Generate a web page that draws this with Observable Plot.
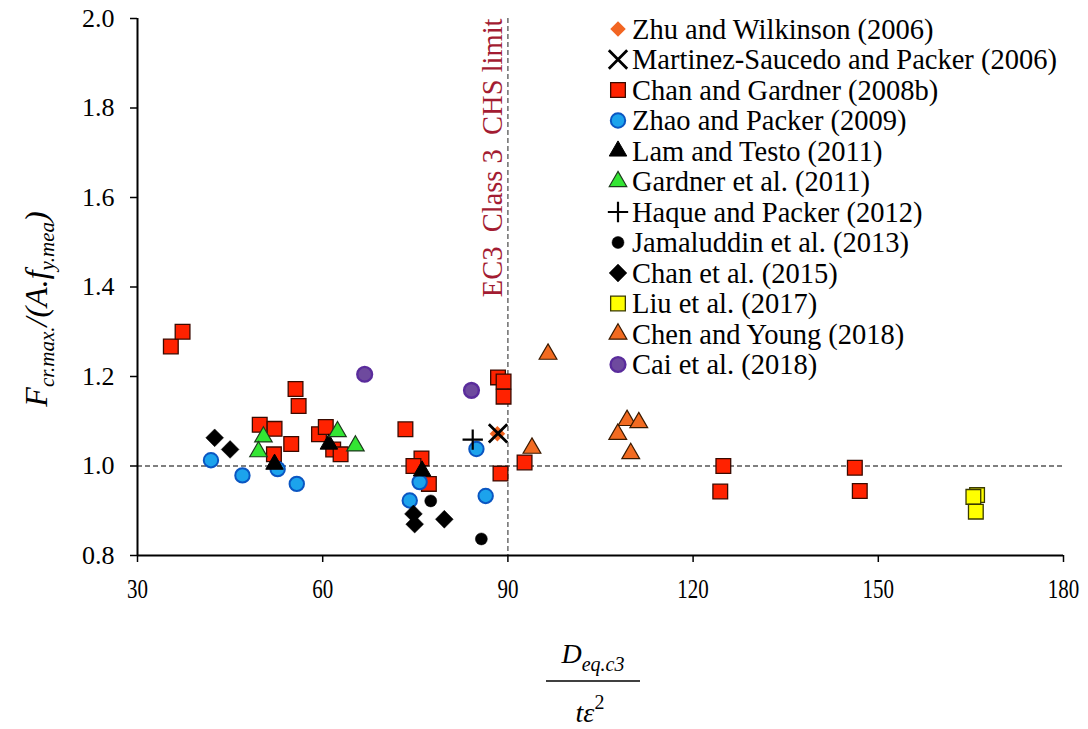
<!DOCTYPE html>
<html><head><meta charset="utf-8">
<script src="https://cdn.jsdelivr.net/npm/d3@7"></script>
<script src="https://cdn.jsdelivr.net/npm/@observablehq/plot@0.6"></script>
<style>body{margin:0;background:#fff} svg{display:block} svg text, svg tspan{font-family:'Liberation Serif','Times New Roman',serif !important;}</style>
</head><body><div id="chart"></div>
<script>
// ---- data ----
const xTicks = [30, 60, 90, 120, 150, 180];
const yTicks = [0.8, 1.0, 1.2, 1.4, 1.6, 1.8, 2.0];
const limitX = 90;
const refY = 1.0;
const limitLabel = "EC3\u00a0\u00a0Class 3\u00a0\u00a0CHS limit";

const seriesNames = [
  "Zhu and Wilkinson (2006)",
  "Martinez-Saucedo and Packer (2006)",
  "Chan and Gardner (2008b)",
  "Zhao and Packer (2009)",
  "Lam and Testo (2011)",
  "Gardner et al. (2011)",
  "Haque and Packer (2012)",
  "Jamaluddin et al. (2013)",
  "Chan et al. (2015)",
  "Liu et al. (2017)",
  "Chen and Young (2018)",
  "Cai et al. (2018)"
];

const zhuX = [88.3], zhuY = [1.072];
const martinezX = [88.4], martinezY = [1.073];
const chanGardnerX = [35.4, 37.3, 55.6, 56.1, 49.8, 52.2, 54.9, 52.1, 59.4, 60.5, 61.7, 62.9, 73.4, 76.0, 74.7, 77.2, 88.4, 89.3, 89.3, 88.8, 92.7, 124.9, 124.4, 146.2, 147.0];
const chanGardnerY = [1.267, 1.300, 1.172, 1.134, 1.092, 1.083, 1.049, 1.026, 1.071, 1.087, 1.037, 1.026, 1.082, 1.017, 1.000, 0.960, 1.198, 1.189, 1.155, 0.983, 1.008, 1.000, 0.943, 0.996, 0.944];
const zhaoX = [41.9, 47.0, 52.7, 55.8, 75.7, 74.1, 84.9, 86.4];
const zhaoY = [1.013, 0.979, 0.993, 0.960, 0.964, 0.923, 1.038, 0.933];
const lamX = [52.2, 61.0, 76.1], lamY = [1.004, 1.049, 0.989];
const gardnerX = [50.4, 49.6, 62.4, 65.3], gardnerY = [1.065, 1.032, 1.077, 1.045];
const haqueX = [84.3], haqueY = [1.059];
const jamaluddinX = [77.5, 85.7], jamaluddinY = [0.922, 0.837];
const chan2015X = [42.5, 45.0, 74.7, 74.9, 79.7], chan2015Y = [1.063, 1.037, 0.893, 0.870, 0.881];
const liuX = [166.0, 165.4, 165.8], liuY = [0.935, 0.931, 0.898];
const chenX = [96.5, 93.9, 109.3, 111.2, 107.8, 109.9], chenY = [1.250, 1.040, 1.102, 1.097, 1.071, 1.028];
const caiX = [66.8, 84.1], caiY = [1.205, 1.169];

// ---- styling table ----
const series = [
  {xs: zhuX, ys: zhuY, symbol: "diamond2", fill: "#F26522", stroke: "none", r: 7, sw: 0},
  {xs: martinezX, ys: martinezY, symbol: "times", fill: "none", stroke: "#000", r: 8.4, sw: 2.8},
  {xs: chanGardnerX, ys: chanGardnerY, symbol: "square", fill: "#FF2200", stroke: "#3a0a00", r: 8.3, sw: 1.3},
  {xs: zhaoX, ys: zhaoY, symbol: "circle", fill: "#1CA3EC", stroke: "#0A56C2", r: 7.2, sw: 2},
  {xs: lamX, ys: lamY, symbol: "triangle", fill: "#000", stroke: "#000", r: 6.5, sw: 1},
  {xs: gardnerX, ys: gardnerY, symbol: "triangle", fill: "#33E533", stroke: "#1d3a1d", r: 6.5, sw: 1.2},
  {xs: haqueX, ys: haqueY, symbol: "plus", fill: "none", stroke: "#000", r: 6.6, sw: 2.2},
  {xs: jamaluddinX, ys: jamaluddinY, symbol: "circle", fill: "#000", stroke: "#000", r: 6, sw: 0.5},
  {xs: chan2015X, ys: chan2015Y, symbol: "diamond2", fill: "#000", stroke: "#000", r: 8, sw: 0.5},
  {xs: liuX, ys: liuY, symbol: "square", fill: "#FFFF00", stroke: "#3a3a00", r: 8.3, sw: 1.3},
  {xs: chenX, ys: chenY, symbol: "triangle", fill: "#F26B21", stroke: "#3a1a00", r: 6.6, sw: 1.2},
  {xs: caiX, ys: caiY, symbol: "circle", fill: "#6E4A9E", stroke: "#5A2C9C", r: 7.4, sw: 2.4}
];
series.forEach((s, i) => s.name = seriesNames[i]);

const font = "'Liberation Serif', 'Times New Roman', serif";

const dotMarks = series.map(s => Plot.dot(
  s.xs.map((x, i) => ({x, y: s.ys[i]})),
  {x: "x", y: "y", symbol: s.symbol, r: s.r, fill: s.fill, stroke: s.stroke, strokeWidth: s.sw}
));

const svg = Plot.plot({
  width: 1088,
  height: 729,
  marginLeft: 137,
  marginRight: 25,
  marginTop: 18,
  marginBottom: 174,
  style: {fontFamily: font, fontSize: "26px", background: "#fff", color: "#000"},
  x: {domain: [30, 180]},
  y: {domain: [0.8, 2.0]},
  marks: [
    Plot.ruleY([refY], {stroke: "#555", strokeWidth: 1.3, strokeDasharray: "5,3"}),
    Plot.ruleX([limitX], {stroke: "#555", strokeWidth: 1.3, strokeDasharray: "5,3"}),
    Plot.text([limitLabel], {x: limitX, y: 2.0, text: d => d, rotate: -90, textAnchor: "end", lineAnchor: "bottom", dx: -6, fill: "#A31C32", fontSize: 28.5}),
    Plot.axisX(xTicks, {tickSize: 7, tickPadding: 16, strokeWidth: 1.5, fontSize: 27, label: null}),
    Plot.axisY(yTicks, {tickSize: 7, tickPadding: 16, strokeWidth: 1.5, fontSize: 26, tickFormat: d3.format(".1f"), label: null}),
    ...dotMarks,
    Plot.ruleX([30], {stroke: "#000", strokeWidth: 2}),
    Plot.ruleY([0.8], {stroke: "#000", strokeWidth: 2})
  ]
});

const root = d3.select(svg);

// condensed x tick labels as in the reference
root.selectAll('[aria-label="x-axis tick label"] text').each(function() {
  const t = this.textContent;
  this.setAttribute("textLength", t.length * 10.5);
  this.setAttribute("lengthAdjust", "spacingAndGlyphs");
});

// legend
const symMap = {
  diamond2: d3.symbolDiamond2, times: d3.symbolTimes, square: d3.symbolSquare,
  circle: d3.symbolCircle, triangle: d3.symbolTriangle, plus: d3.symbolPlus
};
const leg = root.append("g").attr("font-size", 28.5).attr("text-anchor", "start");
series.forEach((s, i) => {
  const cy = 29 + i * 30.5;
  const rr = s.r;
  if (s.symbol === "circle") {
    leg.append("circle").attr("cx", 618).attr("cy", cy).attr("r", rr)
      .attr("fill", s.fill).attr("stroke", s.stroke).attr("stroke-width", s.sw);
  } else {
    leg.append("path").attr("transform", `translate(618,${cy})`)
      .attr("d", d3.symbol(symMap[s.symbol], Math.PI * rr * rr)())
      .attr("fill", s.fill).attr("stroke", s.stroke).attr("stroke-width", s.sw);
  }
  leg.append("text").attr("x", 632).attr("y", cy + 9.5)
    .attr("text-anchor", "start").attr("fill", "#000").text(s.name);
});

// y-axis label
const yl = root.append("text").attr("transform", "translate(47,309) rotate(-90)")
  .attr("text-anchor", "middle").attr("font-style", "italic")
  .attr("font-size", 32).attr("fill", "#000");
yl.append("tspan").text("F");
yl.append("tspan").attr("font-size", 21).attr("dy", 7).text("cr.max.");
yl.append("tspan").attr("dy", -7).text("/(A.");
yl.append("tspan").text("f");
yl.append("tspan").attr("font-size", 21).attr("dy", 7).text("y.mea");
yl.append("tspan").attr("dy", -7).text(")");

// x-axis label (fraction)
const xl = root.append("text").attr("x", 593).attr("y", 663).attr("text-anchor", "middle")
  .attr("font-style", "italic").attr("font-size", 28).attr("fill", "#000");
xl.append("tspan").text("D");
xl.append("tspan").attr("font-size", 20).attr("dy", 8).text("eq.c3");
root.append("line").attr("x1", 546).attr("x2", 640).attr("y1", 681).attr("y2", 681)
  .attr("stroke", "#000").attr("stroke-width", 1.5);
const xd = root.append("text").attr("x", 590).attr("y", 722).attr("text-anchor", "middle")
  .attr("font-style", "italic").attr("font-size", 28).attr("fill", "#000");
xd.append("tspan").text("tε");
xd.append("tspan").attr("font-size", 20).attr("font-style", "normal").attr("dy", -13).text("2");

document.getElementById("chart").appendChild(svg);
</script>
</body></html>
